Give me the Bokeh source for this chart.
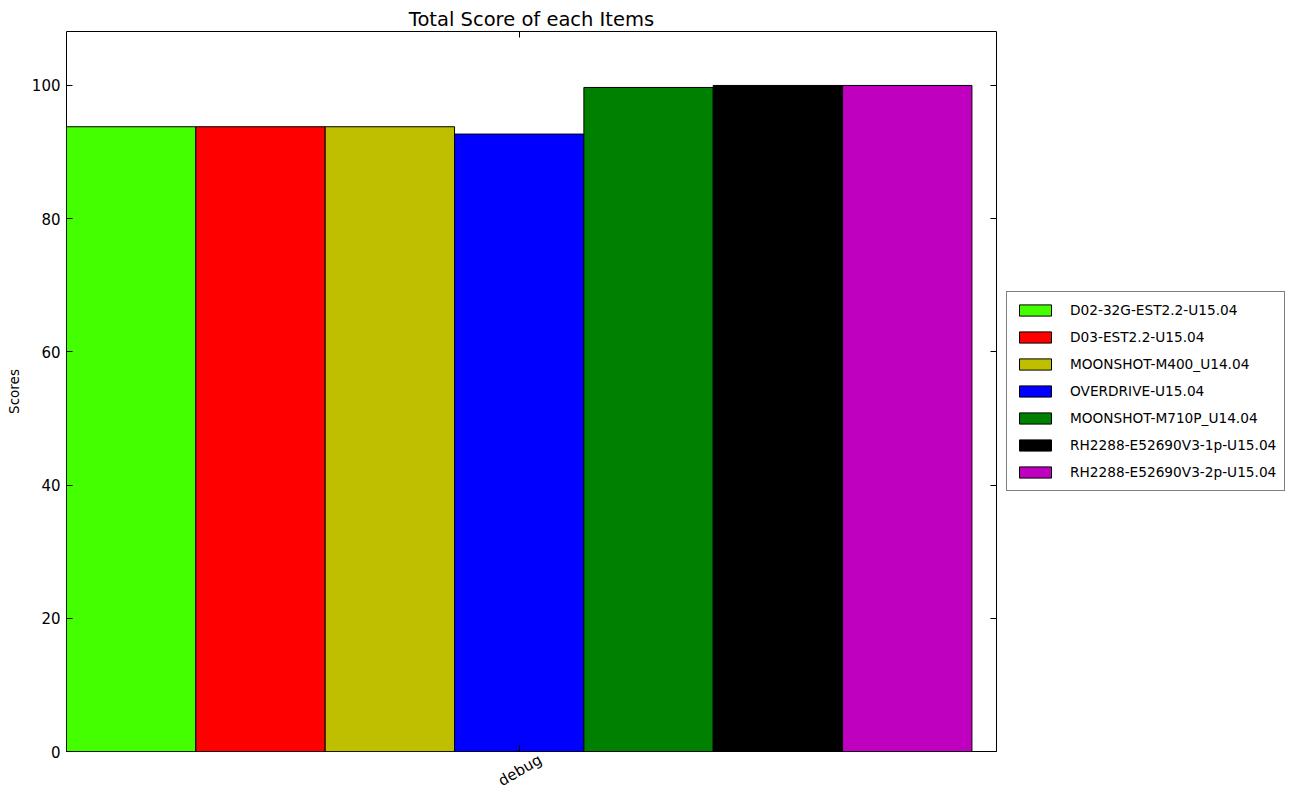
import math
from bokeh.plotting import figure
from bokeh.layouts import row
from bokeh.models import (ColumnDataSource, Range1d, FixedTicker, LinearAxis,
                          Legend, LegendItem)
from bokeh.embed import file_html
from bokeh.resources import INLINE

# ---- data ----
categories = ["debug"]
series_names = [
    "D02-32G-EST2.2-U15.04",
    "D03-EST2.2-U15.04",
    "MOONSHOT-M400_U14.04",
    "OVERDRIVE-U15.04",
    "MOONSHOT-M710P_U14.04",
    "RH2288-E52690V3-1p-U15.04",
    "RH2288-E52690V3-2p-U15.04",
]
scores = [93.8, 93.8, 93.8, 92.7, 99.7, 100.0, 100.0]
colors = ["#44ff00", "#ff0000", "#bfbf00", "#0000ff", "#008000", "#000000", "#bf00bf"]
y_ticks = [0, 20, 40, 60, 80, 100]

FONT = "DejaVu Sans"

n = len(series_names)
bar_x = [i + 0.5 for i in range(n)]
cat_center = n / 2.0
X_END = 7.19
LABEL_SHIFT = 0.165  # shift so the rotated label is centred under its tick

p = figure(width=1006, height=800, output_backend="svg", toolbar_location=None,
           x_range=Range1d(0, X_END), y_range=Range1d(0, 108.1),
           min_border_left=66, min_border_right=10, min_border_top=31,
           min_border_bottom=49)
p.extra_x_ranges = {"lab": Range1d(-LABEL_SHIFT, X_END - LABEL_SHIFT)}

p.title.text = "Total Score of each Items"
p.title.align = "center"
p.title.text_font = FONT
p.title.text_font_size = "19.5px"
p.title.text_font_style = "normal"
p.title.text_color = "black"
p.title.standoff = 2

p.grid.visible = False
p.outline_line_color = "black"
p.outline_line_width = 1
p.background_fill_color = "white"
p.border_fill_color = "white"

sources = []
for i in range(n):
    src = ColumnDataSource(dict(x=[bar_x[i]], top=[scores[i]]))
    sources.append(src)
    p.vbar(x="x", top="top", width=1.0, bottom=0, source=src,
           fill_color=colors[i], line_color="black", line_width=1)

def style_axis(ax):
    ax.axis_line_color = None
    ax.major_tick_in = 6
    ax.major_tick_out = 0
    ax.minor_tick_line_color = None
    ax.major_tick_line_color = "black"
    ax.major_label_text_font = FONT
    ax.major_label_text_font_size = "15px"
    ax.major_label_text_color = "black"

# x axis: tick mark only
xa = p.xaxis[0]
style_axis(xa)
xa.ticker = FixedTicker(ticks=[cat_center])
xa.major_label_overrides = {cat_center: ""}
xa.major_label_standoff = 0

# x axis: rotated category label
xl = LinearAxis(x_range_name="lab", ticker=FixedTicker(ticks=[cat_center]))
style_axis(xl)
xl.major_tick_in = 0
xl.major_tick_line_color = None
xl.major_label_overrides = {cat_center: categories[0]}
xl.major_label_orientation = math.pi / 6
xl.major_label_standoff = 7
p.add_layout(xl, "below")

# y axis
ya = p.yaxis[0]
style_axis(ya)
ya.ticker = FixedTicker(ticks=y_ticks)
ya.axis_label = "Scores"
ya.axis_label_text_font = FONT
ya.axis_label_text_font_size = "13.5px"
ya.axis_label_text_font_style = "normal"
ya.axis_label_text_color = "black"
ya.axis_label_standoff = 7
ya.major_label_standoff = 6

# mirrored axes (ticks only)
ra = LinearAxis(ticker=FixedTicker(ticks=y_ticks))
style_axis(ra)
ra.major_label_overrides = {t: "" for t in y_ticks}
ra.major_label_standoff = 0
p.add_layout(ra, "right")
top = LinearAxis(ticker=FixedTicker(ticks=[cat_center]))
style_axis(top)
top.major_label_overrides = {cat_center: ""}
top.major_label_standoff = 0
p.add_layout(top, "above")

# ---- legend panel (separate figure to the right of the plot) ----
# its view ranges are far from the data, so only the legend is visible
lp = figure(width=289, height=800, output_backend="svg", toolbar_location=None,
            x_range=Range1d(-1001, -1000), y_range=Range1d(-1001, -1000),
            min_border_left=0, min_border_right=0, min_border_top=31,
            min_border_bottom=49)
lp.axis.visible = False
lp.grid.visible = False
lp.outline_line_color = None
lp.background_fill_color = "white"
lp.border_fill_color = "white"

leg_renderers = []
for i in range(n):
    r = lp.vbar(x="x", top="top", width=1.0, bottom=0, source=sources[i],
                fill_color=colors[i], line_color="black", line_width=1)
    leg_renderers.append(r)

legend = Legend(items=[LegendItem(label=series_names[i], renderers=[leg_renderers[i]])
                       for i in range(n)],
                location="center_left")
legend.label_text_font = FONT
legend.label_text_font_size = "13.7px"
legend.label_text_color = "black"
legend.glyph_width = 40
legend.glyph_height = 14
legend.label_height = 20
legend.spacing = 7
legend.padding = 8
legend.label_standoff = 15
legend.margin = 0
legend.border_line_color = "black"
legend.border_line_width = 1
legend.background_fill_alpha = 1
lp.add_layout(legend)

layout = row(p, lp, spacing=0)
open("out.html", "w").write(file_html(layout, INLINE))
